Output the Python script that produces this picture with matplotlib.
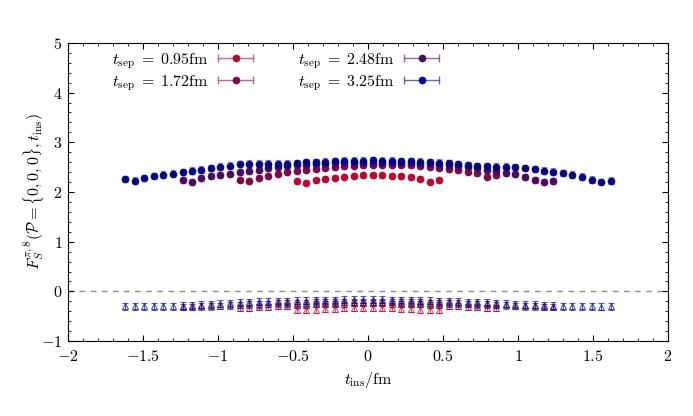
import numpy as np
import matplotlib
matplotlib.use("Agg")
import matplotlib.pyplot as plt
from matplotlib.ticker import MultipleLocator, FuncFormatter
from matplotlib.legend_handler import HandlerErrorbar

plt.rcParams["font.family"] = "serif"
plt.rcParams["font.serif"] = ["cmr10", "DejaVu Serif"]
plt.rcParams["mathtext.fontset"] = "cm"
plt.rcParams["axes.formatter.use_mathtext"] = True
plt.rcParams["font.size"] = 11

# insertion times (fm) for each source-sink separation
t_095 = [-0.476, -0.412, -0.349, -0.285, -0.222, -0.159, -0.095, -0.032,
         0.032, 0.095, 0.159, 0.222, 0.285, 0.349, 0.412, 0.476]
t_172 = [-0.856, -0.792, -0.729, -0.666, -0.602, -0.539, -0.476, -0.412,
         -0.349, -0.285, -0.222, -0.159, -0.095, -0.032,
         0.032, 0.095, 0.159, 0.222, 0.285, 0.349, 0.412, 0.476,
         0.539, 0.602, 0.666, 0.729, 0.792, 0.856]
t_248 = [-1.236, -1.173, -1.110, -1.046, -0.983, -0.919, -0.856, -0.792,
         -0.729, -0.666, -0.602, -0.539, -0.476, -0.412, -0.349, -0.285,
         -0.222, -0.159, -0.095, -0.032,
         0.032, 0.095, 0.159, 0.222, 0.285, 0.349, 0.412, 0.476,
         0.539, 0.602, 0.666, 0.729, 0.792, 0.856, 0.919, 0.983,
         1.046, 1.110, 1.173, 1.236]
t_325 = [-1.617, -1.553, -1.490, -1.427, -1.363, -1.300, -1.236, -1.173,
         -1.110, -1.046, -0.983, -0.919, -0.856, -0.792, -0.729, -0.666,
         -0.602, -0.539, -0.476, -0.412, -0.349, -0.285, -0.222, -0.159,
         -0.095, -0.032,
         0.032, 0.095, 0.159, 0.222, 0.285, 0.349, 0.412, 0.476,
         0.539, 0.602, 0.666, 0.729, 0.792, 0.856, 0.919, 0.983,
         1.046, 1.110, 1.173, 1.236, 1.300, 1.363, 1.427, 1.490,
         1.553, 1.617]

# upper band (circles)
f_095 = [2.22, 2.19, 2.24, 2.27, 2.29, 2.31, 2.33, 2.34, 2.34, 2.34, 2.33,
         2.32, 2.30, 2.27, 2.21, 2.24]
f_172 = [2.25, 2.22, 2.29, 2.33, 2.37, 2.40, 2.43, 2.45, 2.47, 2.49, 2.50,
         2.52, 2.53, 2.54, 2.55, 2.55, 2.55, 2.55, 2.54, 2.53, 2.51, 2.49,
         2.46, 2.44, 2.41, 2.38, 2.31, 2.34]
f_248 = [2.24, 2.21, 2.29, 2.32, 2.35, 2.37, 2.40, 2.42, 2.45, 2.48, 2.50,
         2.52, 2.54, 2.55, 2.56, 2.57, 2.58, 2.58, 2.59, 2.59, 2.59, 2.59,
         2.59, 2.58, 2.58, 2.57, 2.56, 2.55, 2.54, 2.52, 2.50, 2.48, 2.45,
         2.42, 2.39, 2.36, 2.31, 2.25, 2.21, 2.23]
f_325 = [2.26, 2.23, 2.28, 2.32, 2.35, 2.37, 2.40, 2.43, 2.45, 2.48, 2.51,
         2.53, 2.56, 2.57, 2.57, 2.57, 2.57, 2.57, 2.58, 2.60, 2.60, 2.61,
         2.62, 2.63, 2.63, 2.63, 2.64, 2.63, 2.63, 2.62, 2.62, 2.61, 2.60,
         2.59, 2.58, 2.56, 2.54, 2.52, 2.52, 2.51, 2.51, 2.50, 2.48, 2.46,
         2.43, 2.41, 2.38, 2.35, 2.31, 2.25, 2.20, 2.23]

# lower band (triangles)
g_095 = [-0.38, -0.38, -0.37, -0.36, -0.35, -0.34, -0.34, -0.33, -0.33,
         -0.34, -0.34, -0.35, -0.36, -0.37, -0.38, -0.38]
g_172 = [-0.33, -0.33, -0.32, -0.31, -0.30, -0.29, -0.28, -0.27, -0.26,
         -0.26, -0.25, -0.25, -0.24, -0.24, -0.24, -0.24, -0.25, -0.25,
         -0.26, -0.26, -0.27, -0.28, -0.29, -0.30, -0.31, -0.32, -0.33, -0.33]
g_248 = [-0.31, -0.31, -0.30, -0.30, -0.29, -0.28, -0.27, -0.26, -0.26,
         -0.25, -0.24, -0.24, -0.23, -0.23, -0.22, -0.22, -0.22, -0.21,
         -0.21, -0.21, -0.21, -0.21, -0.21, -0.22, -0.22, -0.22, -0.23,
         -0.23, -0.24, -0.24, -0.25, -0.26, -0.26, -0.27, -0.28, -0.29,
         -0.30, -0.30, -0.31, -0.31]
g_325 = [-0.30, -0.30, -0.30, -0.30, -0.30, -0.30, -0.29, -0.28, -0.27,
         -0.26, -0.25, -0.24, -0.23, -0.22, -0.21, -0.21, -0.20, -0.20,
         -0.19, -0.19, -0.18, -0.18, -0.18, -0.17, -0.17, -0.17, -0.17,
         -0.17, -0.18, -0.18, -0.18, -0.19, -0.19, -0.20, -0.20, -0.21,
         -0.22, -0.22, -0.23, -0.24, -0.25, -0.26, -0.27, -0.27, -0.28,
         -0.29, -0.30, -0.30, -0.30, -0.30, -0.31, -0.30]

err_upper = [0.05, 0.055, 0.06, 0.065]
err_lower = [0.06, 0.06, 0.065, 0.07]

labels = [r"$t_{\rm sep}\;=\;0.95{\rm fm}$", r"$t_{\rm sep}\;=\;1.72{\rm fm}$",
          r"$t_{\rm sep}\;=\;2.48{\rm fm}$", r"$t_{\rm sep}\;=\;3.25{\rm fm}$"]
colors = ["#b40a30", "#7c0a48", "#4a0a62", "#05057f"]

ts = [t_095, t_172, t_248, t_325]
fs = [f_095, f_172, f_248, f_325]
gs = [g_095, g_172, g_248, g_325]

fig = plt.figure(figsize=(6.93, 4.16), dpi=100)
ax = fig.add_axes([0.098, 0.180, 0.866, 0.717])

ax.axhline(0, color="0.55", lw=1.0, ls=(0, (4, 4)), zorder=0)

for t, g, e, c in zip(ts, gs, err_lower, colors):
    ax.errorbar(t, g, yerr=e, fmt="^", ms=4, mfc="none", mec=c, mew=0.8,
                color=c, ecolor=c, elinewidth=0.9, capsize=2.5, capthick=0.9,
                alpha=0.65, zorder=2)

for t, f, e, c in zip(ts, fs, err_upper, colors):
    ax.errorbar(t, f, yerr=e, fmt="none", ecolor=c, elinewidth=0.9,
                capsize=2.5, capthick=0.9, alpha=0.4, zorder=3)
    ax.plot(t, f, "o", ms=4.5, color=c, zorder=4)

# legend proxies drawn as horizontal error bars
handles = []
for c in colors:
    h = ax.errorbar([np.nan], [np.nan], xerr=[1.0], fmt="o", ms=4.5, color=c,
                    ecolor=matplotlib.colors.to_rgba(c, 0.6), elinewidth=1.0,
                    capsize=3, capthick=1.0)
    handles.append(h)
ax.legend(handles, labels, ncol=2, loc="upper left", frameon=False,
          markerfirst=False, bbox_to_anchor=(0.055, 1.01), borderaxespad=0.3,
          columnspacing=2.7, handlelength=2.4, handletextpad=0.5,
          labelspacing=0.15, fontsize=11.5,
          handler_map={type(handles[0]): HandlerErrorbar(xerr_size=1.1)})

ax.set_xlim(-2, 2)
ax.set_ylim(-1, 5)
ax.xaxis.set_major_locator(MultipleLocator(0.5))
ax.xaxis.set_minor_locator(MultipleLocator(0.1))
ax.yaxis.set_major_locator(MultipleLocator(1))
ax.yaxis.set_minor_locator(MultipleLocator(0.2))
fmt = FuncFormatter(lambda v, pos: f"${v:g}$")
ax.xaxis.set_major_formatter(fmt)
ax.yaxis.set_major_formatter(fmt)
ax.tick_params(which="both", direction="in", top=True, right=True)
ax.tick_params(which="major", length=4, labelsize=11.5)
ax.tick_params(which="minor", length=2)
ax.tick_params(axis="x", pad=6)
ax.tick_params(axis="y", pad=4)

ax.set_xlabel(r"$t_{\rm ins}/{\rm fm}$", fontsize=11.5)
ax.set_ylabel(r"$F_S^{\pi,8}(\mathcal{P}=\{0,0,0\},t_{\rm ins})$",
              fontsize=11.5)
ax.yaxis.set_label_coords(-0.036, 0.5)

fig.savefig("out.png", dpi=100)
